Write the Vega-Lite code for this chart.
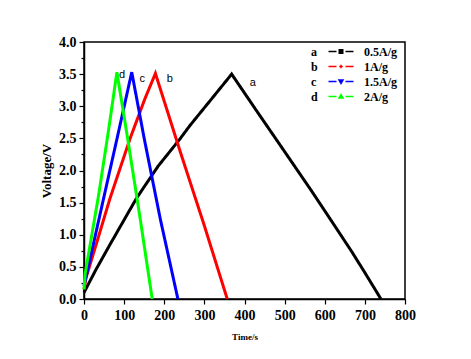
{
  "$schema": "https://vega.github.io/schema/vega-lite/v6.json",
  "width": 321,
  "height": 257,
  "autosize": "none",
  "padding": {"left": 84, "top": 42, "right": 66, "bottom": 60},
  "background": "white",
  "config": {
    "view": {"stroke": "black", "strokeWidth": 1.5},
    "axis": {
      "domainColor": "black", "domainWidth": 1.5, "tickColor": "black", "tickWidth": 1.2,
      "labelFont": "Liberation Serif", "labelFontWeight": "bold", "labelFontSize": 14, "labelColor": "black",
      "titleFont": "Liberation Serif", "titleFontWeight": "bold", "titleColor": "black",
      "grid": false, "labelFlush": false, "labelOverlap": false
    },
    "legend": {
      "labelFont": "Liberation Serif", "labelFontWeight": "bold", "labelFontSize": 12, "labelColor": "black"
    }
  },
  "datasets": {
    "curves": [
      {"rate": "0.5A/g", "letter": "a", "t": 0, "v": 0.1},
      {"rate": "0.5A/g", "letter": "a", "t": 30, "v": 0.46},
      {"rate": "0.5A/g", "letter": "a", "t": 65, "v": 0.85},
      {"rate": "0.5A/g", "letter": "a", "t": 131, "v": 1.57},
      {"rate": "0.5A/g", "letter": "a", "t": 185, "v": 2.07},
      {"rate": "0.5A/g", "letter": "a", "t": 239, "v": 2.49},
      {"rate": "0.5A/g", "letter": "a", "t": 264, "v": 2.7},
      {"rate": "0.5A/g", "letter": "a", "t": 320, "v": 3.13},
      {"rate": "0.5A/g", "letter": "a", "t": 368, "v": 3.5},
      {"rate": "0.5A/g", "letter": "a", "t": 430, "v": 2.93},
      {"rate": "0.5A/g", "letter": "a", "t": 496, "v": 2.33},
      {"rate": "0.5A/g", "letter": "a", "t": 563, "v": 1.72},
      {"rate": "0.5A/g", "letter": "a", "t": 613, "v": 1.25},
      {"rate": "0.5A/g", "letter": "a", "t": 667, "v": 0.74},
      {"rate": "0.5A/g", "letter": "a", "t": 700, "v": 0.41},
      {"rate": "0.5A/g", "letter": "a", "t": 740, "v": 0.0},
      {"rate": "1A/g", "letter": "b", "t": 0, "v": 0.15},
      {"rate": "1A/g", "letter": "b", "t": 5, "v": 0.33},
      {"rate": "1A/g", "letter": "b", "t": 28, "v": 0.8},
      {"rate": "1A/g", "letter": "b", "t": 65, "v": 1.57},
      {"rate": "1A/g", "letter": "b", "t": 115, "v": 2.5},
      {"rate": "1A/g", "letter": "b", "t": 152, "v": 3.12},
      {"rate": "1A/g", "letter": "b", "t": 178, "v": 3.51},
      {"rate": "1A/g", "letter": "b", "t": 240, "v": 2.29},
      {"rate": "1A/g", "letter": "b", "t": 300, "v": 1.14},
      {"rate": "1A/g", "letter": "b", "t": 357, "v": 0.0},
      {"rate": "1.5A/g", "letter": "c", "t": 0, "v": 0.2},
      {"rate": "1.5A/g", "letter": "c", "t": 49, "v": 1.57},
      {"rate": "1.5A/g", "letter": "c", "t": 86, "v": 2.6},
      {"rate": "1.5A/g", "letter": "c", "t": 119, "v": 3.53},
      {"rate": "1.5A/g", "letter": "c", "t": 150, "v": 2.5},
      {"rate": "1.5A/g", "letter": "c", "t": 190, "v": 1.25},
      {"rate": "1.5A/g", "letter": "c", "t": 234, "v": 0.0},
      {"rate": "2A/g", "letter": "d", "t": 0, "v": 0.15},
      {"rate": "2A/g", "letter": "d", "t": 3, "v": 0.4},
      {"rate": "2A/g", "letter": "d", "t": 36, "v": 1.6},
      {"rate": "2A/g", "letter": "d", "t": 61, "v": 2.62},
      {"rate": "2A/g", "letter": "d", "t": 82, "v": 3.53},
      {"rate": "2A/g", "letter": "d", "t": 110, "v": 2.45},
      {"rate": "2A/g", "letter": "d", "t": 140, "v": 1.25},
      {"rate": "2A/g", "letter": "d", "t": 170, "v": 0.0}
    ],
    "tags": [
      {"label": "a", "t": 421, "v": 3.36},
      {"label": "b", "t": 214, "v": 3.42},
      {"label": "c", "t": 145, "v": 3.42},
      {"label": "d", "t": 95, "v": 3.49}
    ]
  },
  "resolve": {"axis": {"y": "independent"}},
  "layer": [
    {
      "data": {"name": "curves"},
      "mark": {"type": "line", "strokeWidth": 3},
      "encoding": {
        "x": {"field": "t", "type": "quantitative", "scale": {"domain": [0, 800], "nice": false},
          "axis": {"orient": "bottom", "values": [0, 50, 100, 150, 200, 250, 300, 350, 400, 450, 500, 550, 600, 650, 700, 750, 800],
            "labelExpr": "datum.value % 100 === 0 ? datum.label : ''", "labelOverlap": false,
            "tickSize": {"condition": {"test": "datum.value % 100 === 0", "value": 5}, "value": 3},
            "labelPadding": 4, "title": "Time/s", "titleFontSize": 9, "titlePadding": 10}},
        "y": {"field": "v", "type": "quantitative", "scale": {"domain": [0, 4], "nice": false},
          "axis": {"orient": "left", "values": [0, 0.5, 1, 1.5, 2, 2.5, 3, 3.5, 4],
            "format": ".1f", "labelOverlap": false, "tickSize": 5,
            "labelPadding": 3, "title": "Voltage/V", "titleFontSize": 13, "titlePadding": 5}},
        "color": {"field": "rate", "type": "nominal",
          "scale": {"domain": ["0.5A/g", "1A/g", "1.5A/g", "2A/g"], "range": ["#000000", "#ff0000", "#0000ff", "#00ff00"]},
          "legend": {"orient": "none", "legendX": 251, "legendY": 3.5, "title": null, "padding": 0, "symbolSize": 100, "labelOffset": 17, "rowPadding": 3,
            "encode": {"symbols": {"update": {"opacity": {"value": 1}, "fill": {"scale": "color", "field": "value"}, "stroke": {"scale": "color", "field": "value"}, "strokeWidth": {"value": 1.5}}}}}},
        "strokeDash": {"field": "letter", "type": "nominal",
          "scale": {"domain": ["a", "b", "c", "d"], "range": [[1, 0], [1, 0], [1, 0], [1, 0]]},
          "legend": {"orient": "none", "legendX": 215, "legendY": 3.5, "title": null, "padding": 0, "symbolSize": 1, "symbolOpacity": 0, "labelOffset": 0, "rowPadding": 3,
            "encode": {"symbols": {"update": {"opacity": {"value": 0}}}}}}
      }
    },
    {
      "data": {"name": "curves"},
      "mark": {"type": "point", "opacity": 0, "filled": true},
      "encoding": {
        "x": {"field": "t", "type": "quantitative"},
        "y": {"field": "v", "type": "quantitative",
          "axis": {"orient": "left", "values": [0.25, 0.75, 1.25, 1.75, 2.25, 2.75, 3.25, 3.75], "tickSize": 3, "labels": false, "domain": false, "title": null}},
        "color": {"field": "rate", "type": "nominal"},
        "shape": {"field": "rate", "type": "nominal",
          "scale": {"domain": ["0.5A/g", "1A/g", "1.5A/g", "2A/g"],
            "range": [
              "M-2.5,0H-0.9M0.9,0H2.5M-0.35,-0.35H0.35V0.35H-0.35Z",
              "M-2.5,0H-0.9M0.9,0H2.5M-0.35,0H0.35M0,-0.35V0.35",
              "M-2.5,0H-0.9M0.9,0H2.5M-0.4,-0.3H0.4L0,0.4Z",
              "M-2.5,0H-0.9M0.9,0H2.5M-0.4,0.3H0.4L0,-0.4Z"
            ]}}
      }
    },
    {
      "data": {"name": "tags"},
      "mark": {"type": "text", "font": "Liberation Sans", "fontSize": 11, "color": "black"},
      "encoding": {
        "x": {"field": "t", "type": "quantitative"},
        "y": {"field": "v", "type": "quantitative", "axis": null},
        "text": {"field": "label"}
      }
    }
  ]
}
